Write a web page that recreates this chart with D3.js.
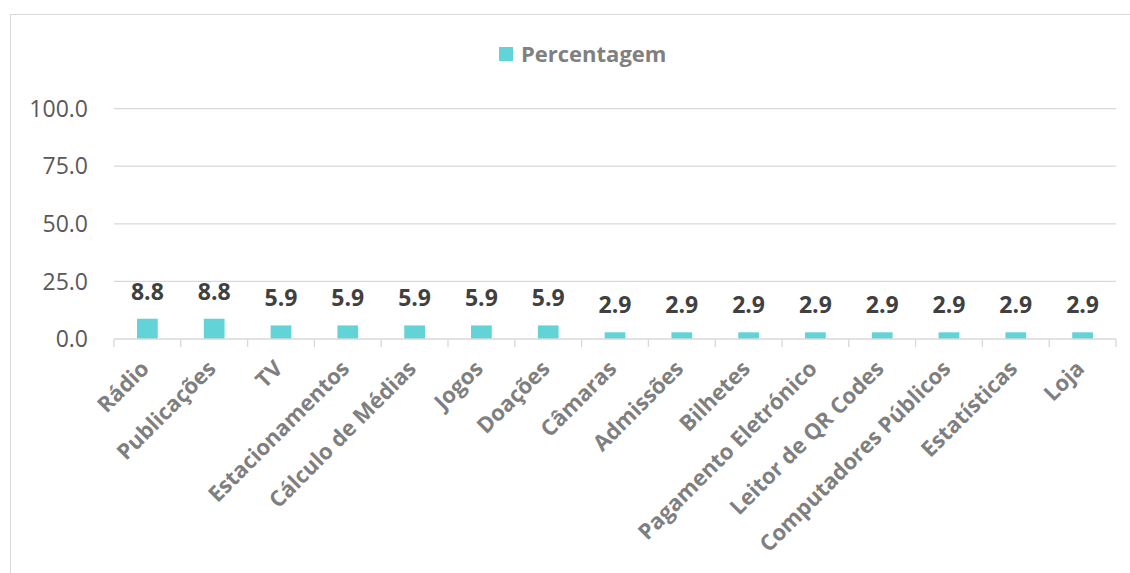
<!DOCTYPE html>
<html><head><meta charset="utf-8">
<script src="https://cdn.jsdelivr.net/npm/d3@7/dist/d3.min.js"></script>
<style>body{margin:0;background:#fff}svg{display:block}</style>
</head><body>
<svg id="c" width="1130" height="573"></svg>
<script>
const categories = ["Rádio","Publicações","TV","Estacionamentos","Cálculo de Médias","Jogos","Doações","Câmaras","Admissões","Bilhetes","Pagamento Eletrónico","Leitor de QR Codes","Computadores Públicos","Estatísticas","Loja"];
const values = [8.8,8.8,5.9,5.9,5.9,5.9,5.9,2.9,2.9,2.9,2.9,2.9,2.9,2.9,2.9];
const yTicks = [0,25,50,75,100];
const seriesName = "Percentagem";

(function(){
const svg = d3.select("#c");
const font = "'Open Sans', sans-serif";
const pLeft = 114, pRight = 1116, pTop = 108.6, pBottom = 339;

svg.append("rect").attr("x",10.5).attr("y",14.5).attr("width",1140).attr("height",600)
  .attr("fill","#fff").attr("stroke","#d9d9d9").attr("stroke-width",1);

const x = d3.scaleBand().domain(categories).range([pLeft,pRight]).paddingInner(0.69).paddingOuter(0.345);
const xb = d3.scaleBand().domain(categories).range([pLeft,pRight]);
const y = d3.scaleLinear().domain([0,100]).range([pBottom,pTop]);

svg.append("g").selectAll("line").data(yTicks.filter(d=>d>0)).join("line")
  .attr("x1",pLeft).attr("x2",pRight).attr("y1",d=>y(d)).attr("y2",d=>y(d))
  .attr("stroke","#d9d9d9").attr("stroke-width",1.3);

svg.append("g").selectAll("text").data(yTicks).join("text")
  .attr("x",88).attr("y",d=>y(d)).attr("dy","0.36em").attr("text-anchor","end")
  .attr("font-family",font).attr("font-size",23).attr("fill","#595959")
  .text(d=>d3.format(".1f")(d));

svg.append("g").selectAll("rect").data(values).join("rect")
  .attr("x",(d,i)=>x(categories[i])).attr("width",x.bandwidth())
  .attr("y",d=>y(d)).attr("height",d=>y(0)-y(d)).attr("fill","#62d3d6");

const ax = svg.append("g");
ax.append("line").attr("x1",pLeft).attr("x2",pRight).attr("y1",pBottom).attr("y2",pBottom)
  .attr("stroke","#d9d9d9").attr("stroke-width",1.3);
const tickPos = categories.map(c=>xb(c)).concat([pRight]);
ax.selectAll("line.t").data(tickPos).join("line").attr("class","t")
  .attr("x1",d=>d).attr("x2",d=>d).attr("y1",pBottom).attr("y2",pBottom+8)
  .attr("stroke","#d9d9d9").attr("stroke-width",1.3);

svg.append("g").selectAll("text").data(values).join("text")
  .attr("x",(d,i)=>x(categories[i])+x.bandwidth()/2).attr("y",d=>y(d)-19)
  .attr("text-anchor","middle").attr("font-family",font).attr("font-weight","bold")
  .attr("font-size",23).attr("fill","#404040").text(d=>d3.format(".1f")(d));

svg.append("g").selectAll("text").data(categories).join("text")
  .attr("transform",c=>`translate(${xb(c)+xb.bandwidth()/2+3},${pBottom+31}) rotate(-45)`)
  .attr("text-anchor","end").attr("font-family",font).attr("font-weight","bold")
  .attr("font-size",22).attr("fill","#7f7f7f").text(c=>c);

svg.append("rect").attr("x",499).attr("y",47).attr("width",14).attr("height",14).attr("fill","#62d3d6");
svg.append("text").attr("x",521).attr("y",62).attr("font-family",font).attr("font-weight","bold")
  .attr("font-size",22).attr("fill","#808080").text(seriesName);
})();
</script>
</body></html>
